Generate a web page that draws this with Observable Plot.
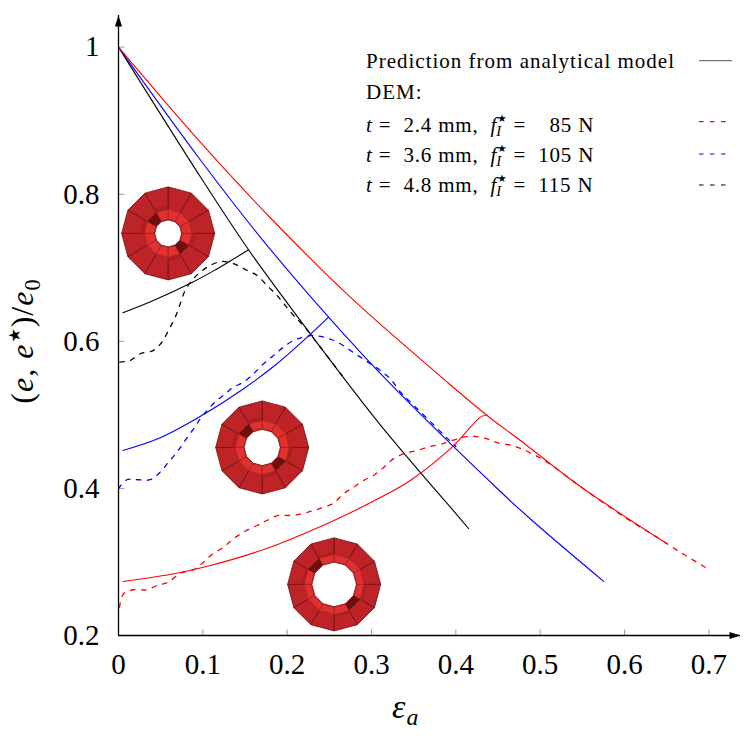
<!DOCTYPE html>
<html><head><meta charset="utf-8">
<script src="https://cdn.jsdelivr.net/npm/d3@7"></script>
<script src="https://cdn.jsdelivr.net/npm/@observablehq/plot@0.6"></script>
<style>html,body{margin:0;padding:0;background:#fff}</style>
</head><body><div id="chart"></div>
<script>
// ---------- data ----------
const xTicks = [0, 0.1, 0.2, 0.3, 0.4, 0.5, 0.6, 0.7];
const yTicks = [0.2, 0.4, 0.6, 0.8, 1];
const xExtent = [0, 0.7375];
const yExtent = [0.2, 1.043];

// analytical model (solid): post-peak descending branches
const redModelDown = [[0,1],[0.097,0.8708],[0.18,0.768],[0.2749,0.66],[0.3875,0.5468],[0.437,0.4992],[0.4765,0.4652],[0.5477,0.4026],[0.6505,0.3247]];
const blueModelDown = [[0,1],[0.0969,0.8469],[0.17,0.739],[0.2491,0.6329],[0.3184,0.5468],[0.4528,0.3958],[0.4904,0.3564],[0.5753,0.2735]];
const blackModelDown = [[0,1],[0.0972,0.8234],[0.1542,0.7245],[0.2274,0.6103],[0.3104,0.4865],[0.4053,0.3587],[0.415,0.3455]];
// analytical model (solid): pre-peak rising branches
const redModelUp = [[0.0052,0.2735],[0.0693,0.2847],[0.1088,0.2952],[0.1483,0.3079],[0.1879,0.3235],[0.2274,0.342],[0.2669,0.3625],[0.3104,0.3875],[0.346,0.4108],[0.3955,0.4561],[0.4291,0.4969],[0.437,0.5001]];
const blueModelUp = [[0.0052,0.4516],[0.0495,0.4689],[0.1008,0.5005],[0.1483,0.5355],[0.1879,0.5695],[0.2195,0.6012],[0.2491,0.6329]];
const blackModelUp = [[0.0052,0.6388],[0.04,0.6548],[0.0871,0.68],[0.1127,0.6958],[0.1325,0.7092],[0.1542,0.7245]];

// DEM (dashed)
const redDEM = [[0.0012,0.2385],[0.0059,0.2567],[0.0178,0.2622],[0.0337,0.2622],[0.0456,0.268],[0.0593,0.2725],[0.0732,0.2847],[0.089,0.2893],[0.1008,0.2997],[0.1108,0.3102],[0.1246,0.3201],[0.1364,0.3315],[0.1483,0.3405],[0.1642,0.3496],[0.176,0.3564],[0.1898,0.3632],[0.2037,0.3632],[0.2176,0.3655],[0.2313,0.37],[0.2432,0.3745],[0.255,0.3799],[0.2669,0.3927],[0.2788,0.4017],[0.2906,0.4108],[0.3025,0.4176],[0.3144,0.4285],[0.3262,0.4405],[0.3401,0.4479],[0.354,0.4516],[0.3698,0.457],[0.3836,0.4607],[0.4093,0.4697],[0.4231,0.4706],[0.437,0.4675],[0.4508,0.4615],[0.4667,0.4584],[0.4804,0.4525],[0.4943,0.4448],[0.5082,0.4357],[0.53,0.4175],[0.55,0.4005],[0.58,0.3765],[0.61,0.3535],[0.64,0.3325],[0.67,0.3105],[0.6987,0.2907]];
const blueDEM = [[0.0,0.3995],[0.01,0.4118],[0.0237,0.4118],[0.0376,0.4118],[0.0495,0.4221],[0.0593,0.4357],[0.0693,0.4493],[0.0791,0.4652],[0.089,0.4811],[0.0969,0.4947],[0.1049,0.506],[0.1167,0.5196],[0.1266,0.5287],[0.1364,0.5377],[0.1483,0.5445],[0.1601,0.5559],[0.172,0.5695],[0.1839,0.5808],[0.1957,0.5921],[0.2076,0.6012],[0.2195,0.6057],[0.2313,0.608],[0.2432,0.6057],[0.2531,0.6021],[0.263,0.5967],[0.2749,0.5876],[0.2867,0.5785],[0.2986,0.5695],[0.3104,0.5604],[0.3223,0.5491],[0.335,0.5300],[0.35,0.5130],[0.37,0.4905],[0.39,0.4680],[0.40,0.4570]];
const blackDEM = [[0.0015,0.5717],[0.0139,0.574],[0.0257,0.5831],[0.0415,0.5876],[0.0515,0.5989],[0.0593,0.6148],[0.0673,0.6329],[0.0732,0.6511],[0.0791,0.6692],[0.0871,0.6828],[0.0969,0.694],[0.1088,0.7032],[0.1227,0.7086],[0.1364,0.7055],[0.1503,0.6977],[0.1642,0.6896],[0.176,0.676],[0.1879,0.6624],[0.1977,0.6488],[0.2076,0.6352],[0.22,0.6205],[0.235,0.5985],[0.25,0.576],[0.265,0.5535]];

// rendered specimens (torus images)
const torusX = [0.0589, 0.1704, 0.2557];
const torusY = [0.7467, 0.4557, 0.2695];
const torusHole = [0.29, 0.39, 0.48];

// legend
const legendLabels = ["Prediction from analytical model", "DEM:", "t = 2.4 mm, f = 85 N", "t = 3.6 mm, f = 105 N", "t = 4.8 mm, f = 115 N"];
const legendThickness = ["", "", "2.4", "3.6", "4.8"];
const legendForce = ["", "", "\u200785", "105", "115"];
const legendColors = ["#777", null, "red", "blue", "black"];
const legendDashed = [false, null, true, true, true];

// ---------- symbols ----------
const rad = Math.PI / 180;
function ringSymbol(hole, r0f, r1f, segs) {
  return { draw(ctx, size) {
    const R = Math.sqrt(size / Math.PI);
    const ri = hole * R;
    const a = ri + (R - ri) * r0f, b = ri + (R - ri) * r1f;
    for (const k of segs) {
      const t0 = k * 30 * rad, t1 = (k + 1) * 30 * rad;
      ctx.moveTo(b * Math.cos(t0), -b * Math.sin(t0));
      ctx.lineTo(b * Math.cos(t1), -b * Math.sin(t1));
      ctx.lineTo(a * Math.cos(t1), -a * Math.sin(t1));
      ctx.lineTo(a * Math.cos(t0), -a * Math.sin(t0));
      ctx.closePath();
    }
  }};
}
const allSegs = d3.range(12);
const arrowHead = { draw(ctx) { ctx.moveTo(0, 0); ctx.lineTo(-3.6, 11); ctx.lineTo(3.6, 11); ctx.closePath(); } };
const tickMark = { draw(ctx) { ctx.moveTo(0, 0); ctx.lineTo(0, -6); } };

// ---------- marks ----------
const pt = {x: d => d[0], y: d => d[1]};
const torusMarks = torusX.flatMap((tx, i) => {
  const d = [[tx, torusY[i]]];
  return [
    Plot.dot(d, {...pt, r: 46.5, symbol: ringSymbol(torusHole[i], 0, 1, allSegs), fill: "#bd2327", stroke: "#7e1719", strokeWidth: 0.9}),
    Plot.dot(d, {...pt, r: 46.5, symbol: ringSymbol(torusHole[i], 0.02, 0.32, allSegs), fill: "#e0302f", stroke: "#a51e20", strokeWidth: 0.6}),
    Plot.dot(d, {...pt, r: 46.5, symbol: ringSymbol(torusHole[i], 0.02, 0.32, [4, 10]), fill: "#6e1010", stroke: "none"}),
    Plot.dot(d, {...pt, r: 46.5, symbol: ringSymbol(torusHole[i], 0.32, 0.45, [3, 5, 9, 11]), fill: "#a81f22", stroke: "none", fillOpacity: 0.8})
  ];
});

const solid = (data, color) => Plot.line(data, {...pt, stroke: color, strokeWidth: 1.1, curve: "catmull-rom"});
const dashed = (data, color) => Plot.line(data, {...pt, stroke: color, strokeWidth: 1.3, strokeDasharray: "4.5,6.5", curve: "catmull-rom"});

const chart = Plot.plot({
  width: 747, height: 747,
  marginLeft: 118, marginRight: 7, marginTop: 15, marginBottom: 112,
  x: {domain: xExtent, axis: null},
  y: {domain: yExtent, axis: null},
  style: {fontFamily: "'Liberation Serif', serif", fontSize: "29px", background: "white", color: "black"},
  marks: [
    Plot.dot(xTicks.slice(1), {x: d => d, y: () => yExtent[0], r: 1, symbol: tickMark, stroke: "#999", strokeWidth: 1, fill: "none"}),
    Plot.dot(yTicks.slice(1), {x: () => xExtent[0], y: d => d, r: 1, symbol: tickMark, rotate: 90, stroke: "#999", strokeWidth: 1, fill: "none"}),
    ...torusMarks,
    solid(blackModelDown, "black"), solid(blackModelUp, "black"),
    solid(blueModelDown, "blue"), solid(blueModelUp, "blue"),
    solid(redModelDown, "red"), solid(redModelUp, "red"),
    dashed(blackDEM, "black"), dashed(blueDEM, "blue"), dashed(redDEM, "red"),
    Plot.ruleX([xExtent[0]], {stroke: "black", strokeWidth: 1.3}),
    Plot.ruleY([yExtent[0]], {stroke: "black", strokeWidth: 1.3}),
    Plot.dot([[xExtent[0], yExtent[1]]], {...pt, r: 1, symbol: arrowHead, fill: "black", stroke: "none"}),
    Plot.dot([[xExtent[1], yExtent[0]]], {...pt, r: 1, symbol: arrowHead, rotate: 90, fill: "black", stroke: "none"}),
    Plot.axisX({ticks: xTicks, tickSize: 0, tickPadding: 18, tickFormat: d => String(d), label: null, fontSize: 29}),
    Plot.axisY({ticks: yTicks, tickSize: 0, tickPadding: 19, tickFormat: d => String(d), label: null, fontSize: 29})
  ]
});
document.getElementById("chart").appendChild(chart);

// ---------- rich text (math labels, legend) ----------
const svg = d3.select(chart);
function rich(x, y, parts, size, opts = {}) {
  const t = svg.append("text").attr("x", x).attr("y", y)
    .attr("font-family", "'Liberation Serif', serif").attr("font-size", size)
    .attr("fill", "black").attr("text-anchor", opts.anchor || "start")
    .style("white-space", "pre");
  if (opts.spacing) t.attr("letter-spacing", opts.spacing);
  if (opts.transform) t.attr("transform", opts.transform);
  let shift = 0, pendDx = 0;
  for (const p of parts) {
    if (p.stack) {
      const ss = size * 0.5;
      const s = t.append("tspan").attr("font-family", "'DejaVu Sans'").attr("font-size", ss)
        .attr("dx", pendDx).attr("dy", -0.45 * size - shift).text(p.sup);
      shift = -0.45 * size;
      const ws = s.node().getComputedTextLength();
      const b = t.append("tspan").attr("font-size", size * 0.7).attr("font-style", "italic")
        .attr("dx", -ws - 1).attr("dy", 0.22 * size - shift).text(p.sub);
      shift = 0.22 * size;
      const wb = b.node().getComputedTextLength();
      pendDx = Math.max(0, ws + 1 - wb);
      continue;
    }
    const target = p.sup ? -0.42 * size : p.sub ? 0.22 * size : 0;
    const fs = (p.sup || p.sub) ? size * 0.7 : size;
    const s = t.append("tspan").attr("font-size", p.starSup ? size * 0.5 : fs)
      .attr("dx", pendDx + (p.dx || 0)).attr("dy", target - shift).text(p.t);
    if (p.i) s.attr("font-style", "italic");
    if (p.starSup) s.attr("font-family", "'DejaVu Sans'");
    shift = target; pendDx = 0;
  }
  return t;
}

// y label (e, e*)/e0
rich(0, 0, [
  {t: "("}, {t: "e", i: true}, {t: ", "}, {t: "e", i: true}, {t: "\u2605", sup: true, starSup: true, dx: 1},
  {t: ")/"}, {t: "e", i: true}, {t: "0", sub: true}
], 32, {anchor: "middle", transform: "translate(33,341) rotate(-90)", spacing: 1});

// x label epsilon_a
rich(392, 718, [{t: "\u03b5", i: true}, {t: "a", sub: true, i: true, dx: 1}], 34);

// legend
const legY = [68.3, 99.3, 131.7, 161.7, 191.7];
const legLineY = [60.7, null, 121.7, 154, 185];
legendLabels.forEach((lab, i) => {
  if (i < 2) {
    rich(366, legY[i], [{t: lab}], 21, {spacing: 1});
  } else {
    rich(366, legY[i], [
      {t: "t", i: true}, {t: " =  " + legendThickness[i] + " mm,  "},
      {t: "f", i: true}, {stack: true, sup: "\u2605", sub: "I"},
      {t: " =  " + legendForce[i] + " N"}
    ], 21, {spacing: 0.8});
  }
  if (legendColors[i]) {
    const l = svg.append("line").attr("x1", 699).attr("x2", 732)
      .attr("y1", legLineY[i]).attr("y2", legLineY[i])
      .attr("stroke", legendColors[i]).attr("stroke-width", 1.2);
    if (legendDashed[i]) l.attr("stroke-dasharray", "4.5,6.5");
  }
});
</script>
</body></html>
